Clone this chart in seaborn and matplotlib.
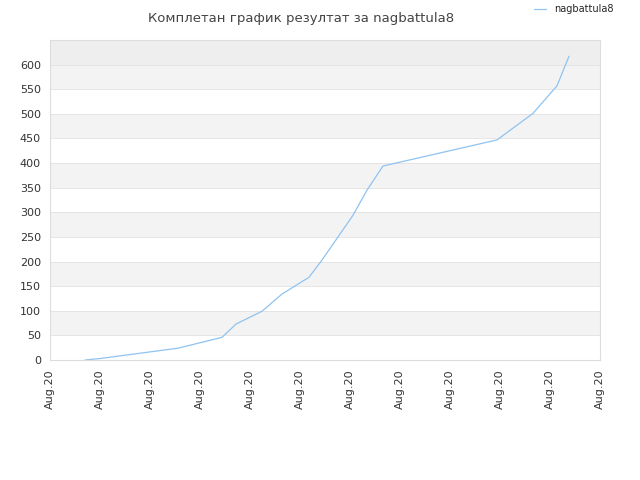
import matplotlib
matplotlib.use("Agg")
import matplotlib.pyplot as plt
import pandas as pd
import seaborn as sns

# x positions in tick units (each tick = one "Aug.20" label)
x_pos = [0.7, 1.0, 2.56, 3.44, 3.72, 4.24, 4.64, 5.18, 5.44, 6.06, 6.34, 6.66, 8.94, 9.66, 10.14, 10.38]
scores = [0, 3, 24, 46, 73, 99, 134, 168, 203, 294, 345, 394, 447, 501, 557, 617]
tick_labels = ["Aug.20"] * 12
player = "nagbattula8"


def main():
    sns.set_theme(style="white")
    plt.rcParams["font.family"] = ["DejaVu Sans"]

    df = pd.DataFrame({"x": x_pos, "score": scores})

    fig = plt.figure(figsize=(6.4, 4.8), dpi=100)
    ax = fig.add_axes([50 / 640, 120 / 480, 550 / 640, 320 / 480])

    # alternating bands
    for lo in range(0, 650, 50):
        if lo == 600:
            color = "#eeeeee"
        elif (lo // 50) % 2 == 1:
            color = "#f3f3f3"
        else:
            color = "white"
        ax.axhspan(lo, lo + 50, color=color, zorder=0, lw=0)
    for y in range(50, 650, 50):
        ax.axhline(y, color="#e2e2e2", lw=0.6, zorder=0.5)

    sns.lineplot(data=df, x="x", y="score", ax=ax, color="#8fc3f0", lw=0.9, label=player, zorder=2)

    ax.set_xlim(0, 11)
    ax.set_ylim(0, 650)
    ax.set_xticks(range(12))
    ax.set_xticklabels(tick_labels, rotation=90, fontsize=8, color="#333333")
    ax.set_yticks(range(0, 601, 50))
    ax.tick_params(axis="y", labelsize=8, colors="#333333", length=3)
    ax.tick_params(axis="x", length=3)
    ax.set_xlabel("")
    ax.set_ylabel("")
    for s in ax.spines.values():
        s.set_color("#dddddd")
        s.set_linewidth(0.8)

    fig.text(0.47, 0.975, "Комплетан график резултат за " + player, ha="center", va="top",
             fontsize=9.5, color="#444444")
    ax.legend(loc="upper right", bbox_to_anchor=(1.04, 1.14), frameon=False, fontsize=7,
              handlelength=1.2)

    fig.savefig("out.png", dpi=100)
    plt.close(fig)


if __name__ == "__main__":
    main()
